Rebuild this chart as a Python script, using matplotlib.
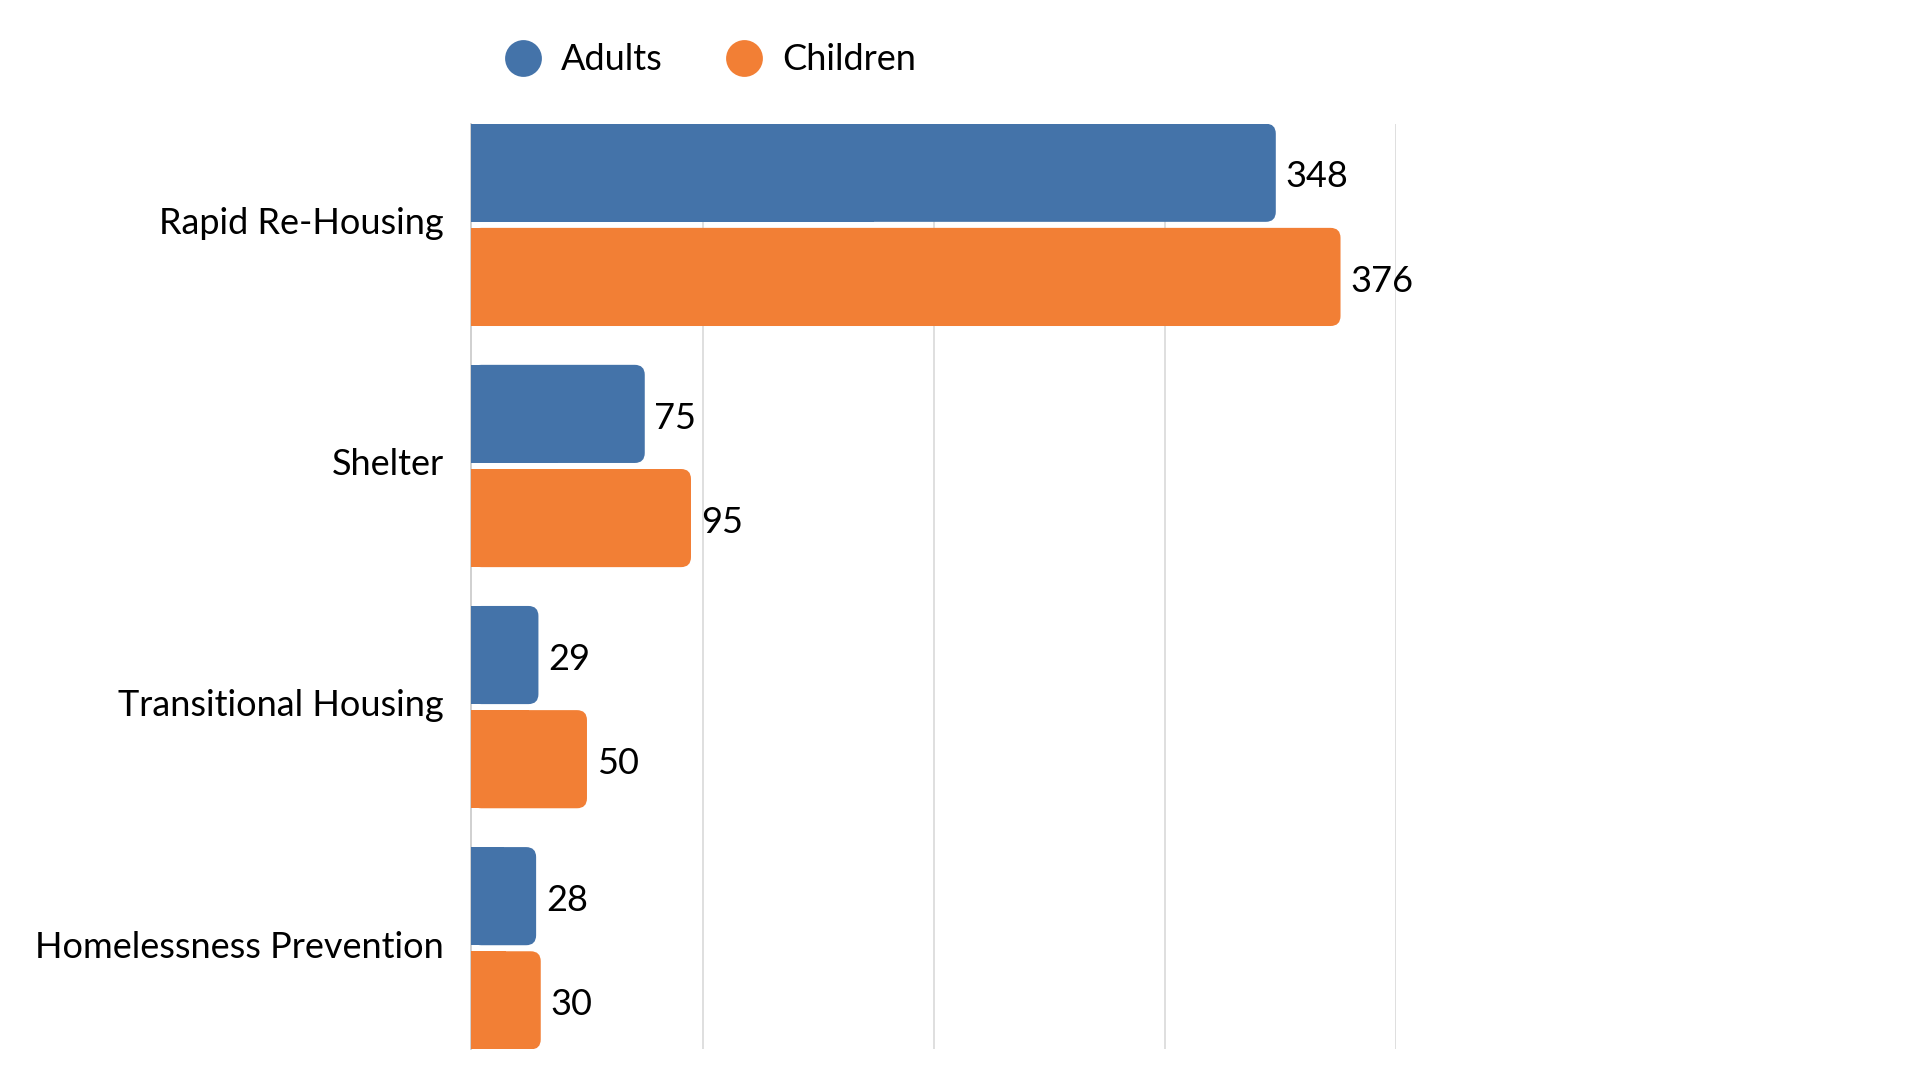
import matplotlib
matplotlib.use('Agg')
import matplotlib.pyplot as plt
import matplotlib.transforms as mtransforms
from matplotlib.patches import FancyBboxPatch
from matplotlib.lines import Line2D
import numpy as np

plt.rcParams['font.family'] = ['Lato', 'DejaVu Sans']

# Data
categories = ['Rapid Re-Housing', 'Shelter', 'Transitional Housing', 'Homelessness Prevention']
adults = [348, 75, 29, 28]
children = [376, 95, 50, 30]
series_names = ['Adults', 'Children']
colors = ['#4473a9', '#f27f35']

fig = plt.figure(figsize=(19.2, 10.8), dpi=100)
ax = fig.add_axes([471.4 / 1920, 30.6 / 1080, (1396 - 471.4) / 1920, 925.7 / 1080])

bar_h = 0.407
gap = 0.025
y = np.arange(len(categories))
offset = (bar_h + gap) / 2

# px per data unit (for round corners)
x_px = (1396 - 471.4) / 400
y_px = 241.0
radius_px = 10

for vals, off, col in [(adults, -offset, colors[0]), (children, offset, colors[1])]:
    bars = ax.barh(y + off, vals, height=bar_h, color=col)
    for b, v in zip(bars, vals):
        b.set_visible(False)
        x0, y0, w, h = b.get_x(), b.get_y(), b.get_width(), b.get_height()
        r = radius_px / x_px
        rp = FancyBboxPatch((x0, y0), w, h,
                            boxstyle=f'round,pad=0,rounding_size={r}',
                            mutation_aspect=x_px / y_px,
                            facecolor=col, edgecolor='none', zorder=3)
        ax.add_patch(rp)
        # square left corners
        ax.add_patch(plt.Rectangle((x0, y0), w / 2, h, facecolor=col,
                                   edgecolor='none', zorder=3))
        ax.annotate(str(v), xy=(x0 + w, y0 + h / 2), xytext=(7, -3),
                    textcoords='offset points', va='center', ha='left',
                    fontsize=26, color='#000000')

ax.set_xlim(0, 400)
ax.set_ylim(3 + offset + bar_h / 2, -offset - bar_h / 2)
ax.set_xticks([100, 200, 300, 400])
ax.set_xticklabels([])
ax.xaxis.grid(True, color='#d9d9d9', linewidth=1.2)
ax.set_axisbelow(True)
ax.set_yticks(y)
ax.set_yticklabels(categories, fontsize=26)
ax.tick_params(axis='y', length=0, pad=20)
ax.tick_params(axis='x', length=0)
shift = mtransforms.ScaledTranslation(0, 3 / 72, fig.dpi_scale_trans)
for lbl in ax.get_yticklabels():
    lbl.set_transform(lbl.get_transform() + shift)
for s in ['top', 'right', 'bottom']:
    ax.spines[s].set_visible(False)
ax.spines['left'].set_color('#c8c8c8')
ax.spines['left'].set_linewidth(1.2)

handles = [Line2D([], [], marker='o', linestyle='none', markersize=26.5,
                  markerfacecolor=c, markeredgecolor='none') for c in colors]
fig.legend(handles, series_names, loc='center left',
           bbox_to_anchor=(505 / 1920, 1 - 60 / 1080), ncol=2, frameon=False,
           fontsize=26, handlelength=1.0, handletextpad=0.55,
           columnspacing=1.75, borderpad=0, borderaxespad=0)

fig.savefig('out.png', dpi=100, facecolor='white')
